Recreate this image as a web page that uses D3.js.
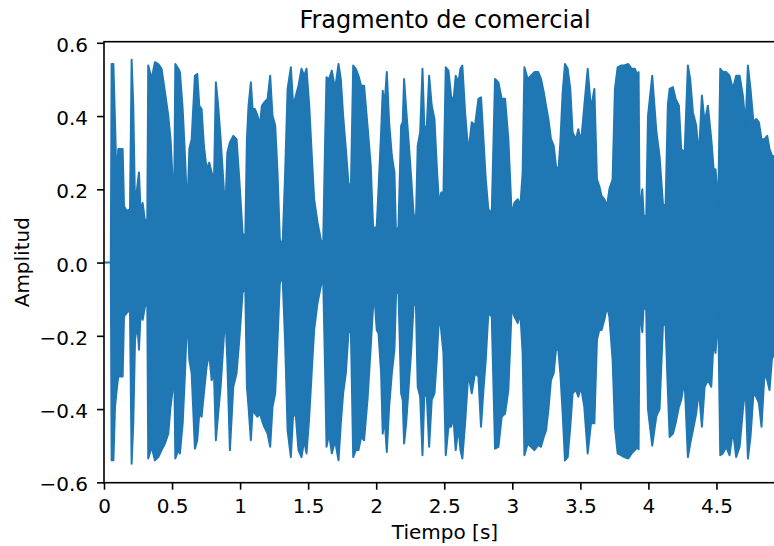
<!DOCTYPE html>
<html>
<head>
<meta charset="utf-8">
<script src="https://cdn.jsdelivr.net/npm/d3@7"></script>
<style>
body { margin: 0; background: #fff; }
text { font-family: "DejaVu Sans", sans-serif; fill: #000; }
</style>
</head>
<body>
<div id="chart"></div>
<script>
// envelope of the waveform: time [s], max and min amplitude
var times = [
  0, 0.05, 0.056, 0.069, 0.081, 0.093, 0.105, 0.137, 0.147, 0.166,
  0.191, 0.203, 0.215, 0.228, 0.245, 0.257, 0.269, 0.284, 0.301, 0.318,
  0.325, 0.350, 0.374, 0.399, 0.423, 0.448, 0.472, 0.489, 0.504, 0.514,
  0.524, 0.546, 0.558, 0.578, 0.595, 0.612, 0.627, 0.644, 0.668, 0.685,
  0.700, 0.717, 0.734, 0.754, 0.773, 0.791, 0.808, 0.822, 0.839, 0.857,
  0.876, 0.891, 0.906, 0.925, 0.950, 0.974, 0.994, 1.018, 1.038, 1.050,
  1.062, 1.079, 1.092, 1.109, 1.128, 1.145, 1.160, 1.177, 1.202, 1.221,
  1.238, 1.258, 1.275, 1.292, 1.312, 1.331, 1.349, 1.373, 1.390, 1.410,
  1.429, 1.451, 1.471, 1.488, 1.508, 1.527, 1.544, 1.569, 1.593, 1.610,
  1.625, 1.635, 1.654, 1.674, 1.698, 1.723, 1.740, 1.757, 1.777, 1.796,
  1.814, 1.831, 1.850, 1.870, 1.889, 1.911, 1.936, 1.960, 1.977, 1.987,
  2.004, 2.017, 2.036, 2.048, 2.061, 2.078, 2.095, 2.115, 2.134, 2.146,
  2.164, 2.183, 2.195, 2.205, 2.220, 2.237, 2.256, 2.274, 2.291, 2.305,
  2.323, 2.340, 2.354, 2.372, 2.389, 2.408, 2.428, 2.445, 2.462, 2.477,
  2.494, 2.511, 2.531, 2.550, 2.567, 2.584, 2.604, 2.619, 2.633, 2.653,
  2.677, 2.702, 2.726, 2.751, 2.770, 2.788, 2.805, 2.824, 2.849, 2.873,
  2.898, 2.922, 2.947, 2.971, 2.996, 3.015, 3.040, 3.059, 3.076, 3.089,
  3.113, 3.137, 3.162, 3.191, 3.211, 3.231, 3.248, 3.265, 3.284, 3.304,
  3.321, 3.338, 3.353, 3.370, 3.387, 3.407, 3.426, 3.443, 3.468, 3.485,
  3.505, 3.529, 3.554, 3.578, 3.603, 3.622, 3.639, 3.656, 3.676, 3.696,
  3.713, 3.737, 3.754, 3.774, 3.798, 3.823, 3.852, 3.877, 3.901, 3.921,
  3.928, 3.935, 3.955, 3.965, 3.984, 3.997, 4.028, 4.058, 4.082, 4.107,
  4.126, 4.143, 4.156, 4.180, 4.200, 4.224, 4.241, 4.266, 4.290, 4.307,
  4.327, 4.351, 4.371, 4.393, 4.413, 4.437, 4.462, 4.479, 4.493, 4.513,
  4.528, 4.547, 4.572, 4.596, 4.621, 4.645, 4.670, 4.694, 4.714, 4.731,
  4.750, 4.772, 4.792, 4.812, 4.831, 4.853, 4.873, 4.890, 4.909, 4.925
];
var upper = [
  0, 0, 0.542, 0.542, 0.383, 0.209, 0.310, 0.310, 0.154, 0.141,
  0.145, 0.554, 0.428, 0.154, 0.209, 0.246, 0.136, 0.163, 0.113, 0.118,
  0.538, 0.501, 0.547, 0.542, 0.529, 0.465, 0.401, 0.337, 0.227, 0.100,
  0.542, 0.529, 0.520, 0.419, 0.291, 0.136, 0.310, 0.337, 0.510, 0.515,
  0.428, 0.419, 0.319, 0.255, 0.273, 0.246, 0.218, 0.492, 0.428, 0.337,
  0.227, 0.136, 0.300, 0.328, 0.346, 0.337, 0.227, 0.081, 0.063, 0.337,
  0.428, 0.492, 0.419, 0.419, 0.401, 0.374, 0.428, 0.437, 0.447, 0.510,
  0.401, 0.374, 0.246, 0.063, 0.045, 0.246, 0.474, 0.533, 0.428, 0.456,
  0.483, 0.529, 0.510, 0.529, 0.428, 0.291, 0.173, 0.109, 0.063, 0.045,
  0.337, 0.506, 0.501, 0.524, 0.474, 0.542, 0.501, 0.401, 0.310, 0.218,
  0.200, 0.538, 0.529, 0.510, 0.483, 0.483, 0.374, 0.264, 0.100, 0.090,
  0.100, 0.200, 0.355, 0.469, 0.428, 0.520, 0.383, 0.291, 0.246, 0.072,
  0.100, 0.374, 0.383, 0.501, 0.419, 0.337, 0.237, 0.136, 0.100, 0.319,
  0.355, 0.529, 0.364, 0.374, 0.510, 0.428, 0.392, 0.264, 0.154, 0.191,
  0.191, 0.533, 0.524, 0.456, 0.437, 0.510, 0.492, 0.529, 0.538, 0.410,
  0.300, 0.383, 0.374, 0.447, 0.451, 0.337, 0.227, 0.145, 0.136, 0.501,
  0.492, 0.447, 0.447, 0.337, 0.127, 0.163, 0.173, 0.154, 0.246, 0.533,
  0.501, 0.510, 0.520, 0.520, 0.501, 0.465, 0.428, 0.392, 0.337, 0.319,
  0.264, 0.246, 0.328, 0.465, 0.542, 0.529, 0.474, 0.355, 0.337, 0.364,
  0.328, 0.428, 0.529, 0.419, 0.474, 0.227, 0.209, 0.182, 0.173, 0.154,
  0.200, 0.227, 0.474, 0.533, 0.538, 0.538, 0.542, 0.529, 0.529, 0.510,
  0.520, 0.130, 0.200, 0.130, 0.120, 0.400, 0.510, 0.360, 0.290, 0.160,
  0.154, 0.430, 0.474, 0.479, 0.447, 0.428, 0.310, 0.300, 0.538, 0.501,
  0.410, 0.374, 0.291, 0.456, 0.383, 0.428, 0.337, 0.255, 0.255, 0.154,
  0.529, 0.520, 0.520, 0.510, 0.474, 0.510, 0.510, 0.456, 0.374, 0.538,
  0.474, 0.383, 0.392, 0.383, 0.337, 0.337, 0.346, 0.310, 0.291, 0.291
];
var lower = [
  0, 0, -0.540, -0.540, -0.394, -0.348, -0.311, -0.311, -0.147, -0.138,
  -0.129, -0.549, -0.439, -0.211, -0.165, -0.238, -0.138, -0.156, -0.120, -0.110,
  -0.535, -0.503, -0.540, -0.531, -0.512, -0.494, -0.467, -0.394, -0.348, -0.211,
  -0.535, -0.512, -0.521, -0.439, -0.302, -0.138, -0.266, -0.302, -0.508, -0.485,
  -0.412, -0.421, -0.357, -0.284, -0.247, -0.321, -0.302, -0.485, -0.412, -0.339,
  -0.229, -0.138, -0.266, -0.512, -0.339, -0.302, -0.211, -0.083, -0.065, -0.339,
  -0.394, -0.485, -0.403, -0.412, -0.421, -0.412, -0.430, -0.448, -0.467, -0.503,
  -0.394, -0.357, -0.211, -0.056, -0.037, -0.220, -0.458, -0.531, -0.412, -0.421,
  -0.512, -0.531, -0.485, -0.521, -0.421, -0.293, -0.184, -0.110, -0.065, -0.037,
  -0.302, -0.503, -0.467, -0.521, -0.485, -0.540, -0.439, -0.357, -0.302, -0.193,
  -0.184, -0.531, -0.512, -0.512, -0.476, -0.485, -0.375, -0.229, -0.120, -0.092,
  -0.184, -0.193, -0.302, -0.467, -0.421, -0.517, -0.394, -0.302, -0.238, -0.083,
  -0.083, -0.357, -0.375, -0.494, -0.439, -0.348, -0.247, -0.120, -0.100, -0.339,
  -0.366, -0.526, -0.357, -0.366, -0.503, -0.375, -0.357, -0.266, -0.138, -0.184,
  -0.247, -0.526, -0.448, -0.448, -0.421, -0.512, -0.448, -0.512, -0.535, -0.439,
  -0.302, -0.357, -0.302, -0.311, -0.448, -0.348, -0.266, -0.138, -0.147, -0.508,
  -0.503, -0.421, -0.412, -0.348, -0.120, -0.147, -0.165, -0.138, -0.247, -0.526,
  -0.494, -0.503, -0.512, -0.498, -0.503, -0.476, -0.458, -0.403, -0.321, -0.302,
  -0.238, -0.238, -0.302, -0.412, -0.540, -0.531, -0.448, -0.357, -0.348, -0.366,
  -0.339, -0.394, -0.521, -0.439, -0.439, -0.211, -0.184, -0.184, -0.156, -0.120,
  -0.147, -0.266, -0.448, -0.521, -0.526, -0.531, -0.535, -0.521, -0.512, -0.503,
  -0.510, -0.120, -0.190, -0.120, -0.130, -0.400, -0.500, -0.420, -0.400, -0.170,
  -0.170, -0.350, -0.476, -0.467, -0.439, -0.394, -0.375, -0.321, -0.531, -0.494,
  -0.458, -0.412, -0.348, -0.448, -0.339, -0.321, -0.339, -0.211, -0.247, -0.138,
  -0.526, -0.521, -0.503, -0.526, -0.458, -0.531, -0.503, -0.403, -0.339, -0.535,
  -0.476, -0.357, -0.366, -0.384, -0.448, -0.302, -0.321, -0.348, -0.257, -0.257
];

var xTicks = [0, 0.5, 1, 1.5, 2, 2.5, 3, 3.5, 4, 4.5];
var yTicks = [-0.6, -0.4, -0.2, 0, 0.2, 0.4, 0.6];
var title = "Fragmento de comercial";
var xLabel = "Tiempo [s]";
var yLabel = "Amplitud";

var svgWidth = 774;
var svgHeight = 546;
var margin = { top: 41.7, left: 104 };
var width = 682;
var height = 441;

var svg = d3.select("#chart")
  .append("svg")
  .attr("width", svgWidth)
  .attr("height", svgHeight);

var chartGroup = svg.append("g")
  .attr("transform", `translate(${margin.left}, ${margin.top})`);

var xScale = d3.scaleLinear()
  .domain([0, 5.011])
  .range([0, width]);

var yScale = d3.scaleLinear()
  .domain([-0.601, 0.603])
  .range([height, 0]);

var data = times.map(function(t, i) {
  return { t: t, hi: upper[i], lo: lower[i] };
});

chartGroup.append("clipPath")
  .attr("id", "clip")
  .append("rect")
  .attr("width", width)
  .attr("height", height);

var area = d3.area()
  .x(d => xScale(d.t))
  .y0(d => yScale(d.lo))
  .y1(d => yScale(d.hi));

chartGroup.append("path")
  .datum(data)
  .attr("clip-path", "url(#clip)")
  .attr("d", area)
  .attr("fill", "#1f77b4")
  .attr("stroke", "#1f77b4")
  .attr("stroke-width", 2)
  .attr("stroke-linejoin", "round");

// axes
var bottomAxis = d3.axisBottom(xScale)
  .tickValues(xTicks)
  .tickSize(7)
  .tickPadding(9.5)
  .tickFormat(d3.format("~g"));

var leftAxis = d3.axisLeft(yScale)
  .tickValues(yTicks)
  .tickSize(7)
  .tickPadding(9)
  .tickFormat(d3.format(".1f"));

var xAxisG = chartGroup.append("g")
  .attr("transform", `translate(0, ${height})`)
  .call(bottomAxis);

var yAxisG = chartGroup.append("g")
  .call(leftAxis);

[xAxisG, yAxisG].forEach(function(g) {
  g.select(".domain").remove();
  g.selectAll(".tick line").attr("stroke", "#000").attr("stroke-width", 1.6);
  g.selectAll(".tick text")
    .attr("font-family", "DejaVu Sans, sans-serif")
    .attr("font-size", 20)
    .attr("fill", "#000");
});
yAxisG.selectAll(".tick text").attr("dy", "0.43em");

// frame
chartGroup.append("rect")
  .attr("width", width)
  .attr("height", height)
  .attr("fill", "none")
  .attr("stroke", "#000")
  .attr("stroke-width", 1.6);

svg.append("text")
  .attr("x", margin.left + width / 2)
  .attr("y", 28.3)
  .attr("text-anchor", "middle")
  .attr("font-size", 24)
  .text(title);

svg.append("text")
  .attr("x", margin.left + width / 2)
  .attr("y", 539.3)
  .attr("text-anchor", "middle")
  .attr("font-size", 20)
  .text(xLabel);

svg.append("text")
  .attr("transform", `translate(28.5, ${margin.top + height / 2}) rotate(-90)`)
  .attr("text-anchor", "middle")
  .attr("font-size", 20)
  .text(yLabel);
</script>
</body>
</html>
